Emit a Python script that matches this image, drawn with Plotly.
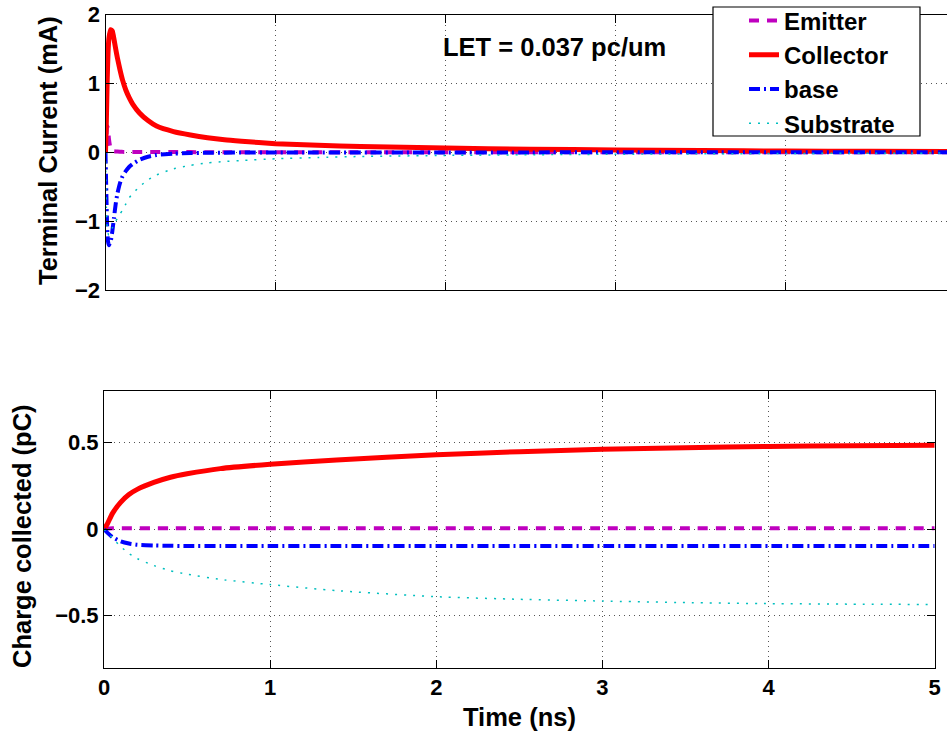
import plotly.graph_objects as go

# Terminal currents (mA) vs time (ns)
t_cur = [0, 0.005, 0.01, 0.015, 0.02, 0.03, 0.04, 0.05, 0.06, 0.07, 0.085, 0.1, 0.12,
         0.14, 0.16, 0.2, 0.25, 0.3, 0.4, 0.5, 0.6, 0.7, 0.8, 1.0, 1.25, 1.5, 2.0,
         2.5, 3.0, 3.5, 4.0, 4.5, 5.0]
i_emitter = [0, 0.2, 0.38, 0.35, 0.2, 0.05, 0.02, 0.015, 0.012, 0.01, 0.008, 0.006, 0.005,
             0.004, 0.004, 0.003, 0.003, 0.002, 0.002, 0.002, 0.001, 0.001, 0.001, 0.001,
             0.001, 0.001, 0.0, 0.0, 0.0, 0.0, 0.0, 0.0, 0.0]
i_collector = [0, 0.45, 1.05, 1.45, 1.65, 1.78, 1.76, 1.64, 1.5, 1.37, 1.2, 1.05, 0.9,
               0.79, 0.7, 0.57, 0.46, 0.38, 0.3, 0.25, 0.21, 0.18, 0.16, 0.125, 0.1,
               0.085, 0.06, 0.045, 0.033, 0.025, 0.018, 0.013, 0.01]
i_base = [0, -0.6, -1.1, -1.3, -1.35, -1.3, -1.15, -0.95, -0.75, -0.6, -0.45, -0.35, -0.27,
          -0.21, -0.17, -0.11, -0.065, -0.04, -0.02, -0.012, -0.008, -0.006, -0.005, -0.004,
          -0.003, -0.003, -0.002, -0.002, -0.001, -0.001, -0.001, -0.001, -0.001]
i_substrate = [0, -0.8, -1.1, -1.18, -1.2, -1.17, -1.1, -1.05, -1.0, -0.96, -0.9, -0.84, -0.75,
               -0.66, -0.6, -0.5, -0.4, -0.33, -0.24, -0.19, -0.155, -0.135, -0.12, -0.095,
               -0.075, -0.062, -0.046, -0.036, -0.029, -0.023, -0.018, -0.014, -0.012]

# Collected charge (pC) vs time (ns)
t_q = [0, 0.02, 0.05, 0.1, 0.15, 0.2, 0.3, 0.4, 0.5, 0.7, 1.0, 1.4, 2.0, 2.5, 3.0,
       3.5, 4.0, 4.5, 5.0]
q_emitter = [0, 0.004, 0.006, 0.006, 0.006, 0.006, 0.006, 0.006, 0.006, 0.006, 0.006,
             0.006, 0.006, 0.006, 0.006, 0.006, 0.006, 0.006, 0.006]
q_collector = [0, 0.03, 0.09, 0.155, 0.2, 0.23, 0.27, 0.3, 0.32, 0.35, 0.375, 0.4, 0.43,
               0.448, 0.462, 0.471, 0.478, 0.482, 0.485]
q_base = [0, -0.02, -0.045, -0.07, -0.083, -0.09, -0.094, -0.096, -0.097, -0.097, -0.097,
          -0.097, -0.097, -0.097, -0.097, -0.097, -0.097, -0.097, -0.097]
q_substrate = [0, -0.02, -0.05, -0.1, -0.14, -0.17, -0.21, -0.24, -0.26, -0.29, -0.32,
               -0.355, -0.39, -0.405, -0.415, -0.424, -0.43, -0.433, -0.435]

names = ["Emitter", "Collector", "base", "Substrate"]
FONT = "Liberation Sans, Arial, Helvetica, sans-serif"

styles = {
    "Emitter": dict(color="#bf00bf", width=4, dash="10px,8px"),
    "Collector": dict(color="#ff0000", width=5, dash="solid"),
    "base": dict(color="#0000ff", width=4, dash="11px,4px,2px,4px"),
    "Substrate": dict(color="#00bfbf", width=1.5, dash="2px,7px"),
}

fig = go.Figure()
currents = [i_emitter, i_collector, i_base, i_substrate]
charges = [q_emitter, q_collector, q_base, q_substrate]
for name, ys in zip(names, currents):
    fig.add_trace(go.Scatter(x=t_cur, y=ys, mode="lines", name=name,
                             line=dict(shape="spline", smoothing=0.5, **styles[name]),
                             xaxis="x", yaxis="y"))
for name, ys in zip(names, charges):
    fig.add_trace(go.Scatter(x=t_q, y=ys, mode="lines", name=name,
                             line=dict(shape="spline", smoothing=0.5, **styles[name]),
                             showlegend=False, xaxis="x2", yaxis="y2"))

W, H = 947, 735
tickfont = dict(family=FONT, size=22, color="black", weight="bold")
grid = dict(showgrid=True, gridcolor="#555555", gridwidth=1, griddash="1px,4px",
            zeroline=False, showline=True, linecolor="black", linewidth=1,
            ticks="inside", ticklen=8, tickcolor="black", tickfont=tickfont)

# legend frame (box drawn as a paper-space rectangle)
LEG_X0, LEG_X1, LEG_Y0, LEG_Y1 = 713, 920, 7, 136

fig.update_layout(
    width=W, height=H, margin=dict(l=0, r=0, t=0, b=0, autoexpand=False),
    paper_bgcolor="white", plot_bgcolor="white",
    font=dict(family=FONT, color="black"),
    xaxis=dict(domain=[105.5 / W, 1.0], range=[0, 4.95], anchor="y",
               tickvals=[0, 1, 2, 3, 4, 5], showticklabels=False, mirror="ticks", **grid),
    yaxis=dict(domain=[1 - 290 / H, 1 - 14.5 / H], range=[-2, 2], anchor="x",
               tickvals=[-2, -1, 0, 1, 2], mirror=False, **grid),
    xaxis2=dict(domain=[104 / W, 934.7 / W], range=[0, 5], anchor="y2",
                tickvals=[0, 1, 2, 3, 4, 5], mirror="ticks", **grid),
    yaxis2=dict(domain=[1 - 667.7 / H, 1 - 390.7 / H], range=[-0.8, 0.8], anchor="x2",
                tickvals=[-0.5, 0, 0.5], mirror="ticks", **grid),
    legend=dict(x=744 / W, y=1 + 1.5 / H, xanchor="left", yanchor="top",
                bgcolor="rgba(0,0,0,0)", borderwidth=0,
                font=dict(family=FONT, size=24, color="black", weight="bold")),
    showlegend=True,
    shapes=[dict(type="rect", xref="paper", yref="paper", layer="above",
                 x0=LEG_X0 / W, x1=LEG_X1 / W, y0=1 - LEG_Y1 / H, y1=1 - LEG_Y0 / H,
                 fillcolor="white", line=dict(color="black", width=1.2))],
)

titlefont = dict(family=FONT, size=25.5, color="black", weight="bold")
fig.add_annotation(text="Terminal Current (mA)", x=48 / W, y=1 - 151 / H, xref="paper",
                   yref="paper", textangle=-90, showarrow=False, font=titlefont,
                   xanchor="center", yanchor="middle")
fig.add_annotation(text="Charge collected (pC)", x=22 / W, y=1 - 536 / H, xref="paper",
                   yref="paper", textangle=-90, showarrow=False, font=titlefont,
                   xanchor="center", yanchor="middle")
fig.add_annotation(text="Time (ns)", x=519 / W, y=1 - 717 / H, xref="paper", yref="paper",
                   showarrow=False, font=titlefont, xanchor="center", yanchor="middle")
fig.add_annotation(text="LET = 0.037 pc/um", x=554 / W, y=1 - 47.5 / H, xref="paper",
                   yref="paper", showarrow=False, font=titlefont,
                   xanchor="center", yanchor="middle")

fig.write_html("out.html")
